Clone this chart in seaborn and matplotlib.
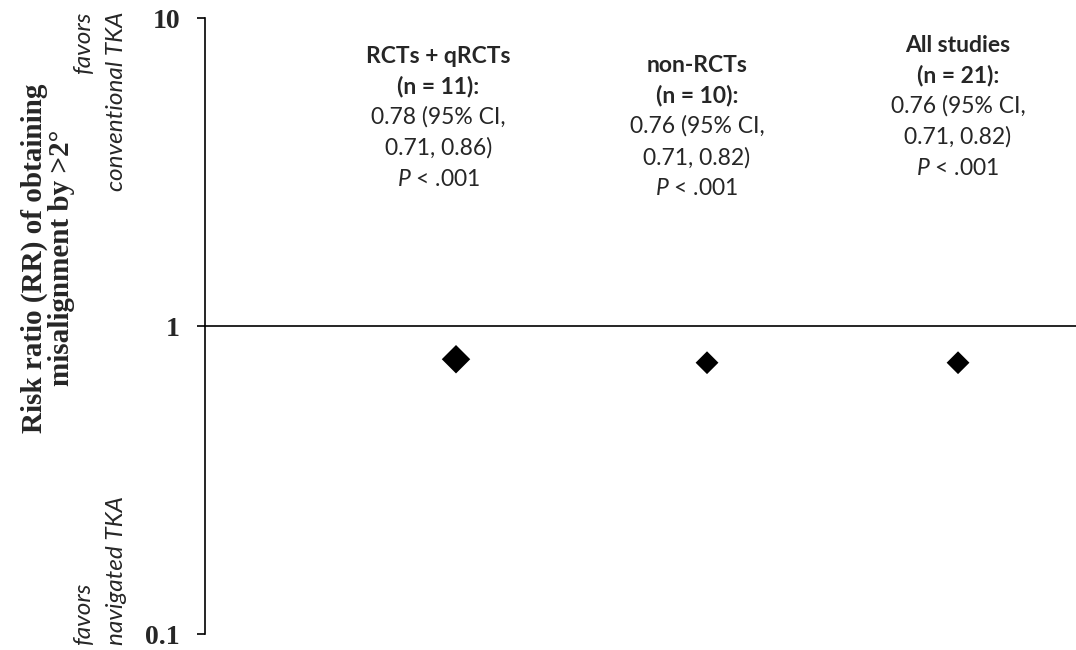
import seaborn as sns
import matplotlib.pyplot as plt
import matplotlib.transforms as mtransforms
import pandas as pd

groups = ['RCTs + qRCTs', 'non-RCTs', 'All studies']
counts = [11, 10, 21]
rr = [0.78, 0.76, 0.76]
ci_low = [0.71, 0.71, 0.71]
ci_high = [0.86, 0.82, 0.82]
p_text = ['< .001', '< .001', '< .001']
marker_sizes = [210, 135, 135]
yticks = [0.1, 1, 10]
ytick_labels = ['0.1', '1', '10']
ylabel = 'Risk ratio (RR) of obtaining\nmisalignment by >2°'

sns.set_style('white')
plt.rcParams['font.family'] = ['Lato', 'DejaVu Sans']
plt.rcParams['mathtext.fontset'] = 'custom'
plt.rcParams['mathtext.it'] = 'Lato:italic'
plt.rcParams['mathtext.rm'] = 'Lato'

df = pd.DataFrame({'group': groups, 'rr': rr})

fig = plt.figure(figsize=(10.76, 6.5), dpi=100)
ax = fig.add_axes([205 / 1076, 16 / 650, 1 - 205 / 1076, 616 / 650])

sns.scatterplot(data=df, x='group', y='rr', size='group',
                sizes=dict(zip(groups, marker_sizes)), marker='D',
                color='black', edgecolor='black', linewidth=0,
                legend=False, ax=ax)

ax.set_yscale('log')
ax.set_ylim(0.1, 10)
ax.set_xlim(-1, 2.47)
ax.minorticks_off()
ax.set_yticks(yticks, ytick_labels)
shift = mtransforms.ScaledTranslation(0, -4 / 72, fig.dpi_scale_trans)
for lbl in ax.get_yticklabels():
    lbl.set_fontfamily('Liberation Serif')
    lbl.set_fontweight('bold')
    lbl.set_fontsize(20)
    lbl.set_transform(lbl.get_transform() + shift)
ax.set_xticks([])
ax.set_xlabel('')
ax.set_ylabel('')
ax.tick_params(axis='y', left=True, length=6, width=1.2, pad=12,
               direction='out', color='black')
for side in ['top', 'right']:
    ax.spines[side].set_visible(False)
ax.spines['bottom'].set_position(('data', 1))
for side in ['left', 'bottom']:
    ax.spines[side].set_color('black')
    ax.spines[side].set_linewidth(1.2)

# summary text above each diamond
x_shift = [-0.07, -0.04, 0.0]
y_top = [0.955, 0.940, 0.973]
for i, g in enumerate(groups):
    head = f'{g}\n(n = {counts[i]}):'
    body = (f'{rr[i]:.2f} (95% CI,\n{ci_low[i]:.2f}, {ci_high[i]:.2f})\n'
            f'$P$ {p_text[i]}')
    ax.annotate(head, xy=(i + x_shift[i], y_top[i]),
                xycoords=('data', 'axes fraction'), ha='center', va='top',
                fontsize=16.5, fontweight='bold', linespacing=1.5)
    ax.annotate(body, xy=(i + x_shift[i], y_top[i]),
                xycoords=('data', 'axes fraction'), xytext=(0, -60),
                textcoords='offset pixels', ha='center', va='top',
                fontsize=16.5, linespacing=1.58)

fig.text(48 / 1076, 1 - 258 / 650, ylabel, rotation=90, ha='center',
         va='center', family='Liberation Serif', weight='bold', size=21,
         multialignment='center', linespacing=1.0)
fig.text(100 / 1076, 1 - 12 / 650, 'favors\nconventional TKA', rotation=90,
         ha='center', va='top', style='italic', size=17.5,
         multialignment='right', linespacing=1.7)
fig.text(100 / 1076, 1 - 645 / 650, 'favors\nnavigated TKA', rotation=90,
         ha='center', va='bottom', style='italic', size=17.5,
         multialignment='left', linespacing=1.7)

fig.savefig('out.png', dpi=100)
